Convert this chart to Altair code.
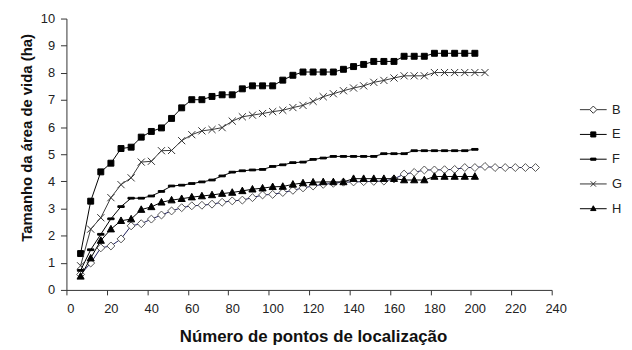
import altair as alt
import pandas as pd

# ---- data ----
X_POINTS = [7, 12, 17, 22, 27, 32, 37, 42, 47, 52, 57, 62, 67, 72, 77, 82, 87, 92, 97, 102,
            107, 112, 117, 122, 127, 132, 137, 142, 147, 152, 157, 162, 167, 172, 177, 182,
            187, 192, 197, 202, 207, 212, 217, 222, 227, 232]

SERIES = ["B", "E", "F", "G", "H"]

B_VALUES = [0.57, 0.99, 1.55, 1.62, 1.88, 2.36, 2.44, 2.61, 2.76, 2.91, 3.03, 3.10, 3.12, 3.16,
            3.23, 3.28, 3.31, 3.40, 3.50, 3.52, 3.59, 3.67, 3.76, 3.83, 3.89, 3.93, 3.97, 3.98,
            3.99, 4.00, 4.01, 4.09, 4.27, 4.33, 4.42, 4.42, 4.43, 4.44, 4.51, 4.51, 4.55, 4.51,
            4.51, 4.51, 4.51, 4.51]
E_VALUES = [1.34, 3.27, 4.35, 4.67, 5.21, 5.26, 5.63, 5.84, 5.97, 6.32, 6.71, 7.01, 7.01, 7.13,
            7.19, 7.19, 7.41, 7.52, 7.52, 7.52, 7.73, 7.91, 8.03, 8.03, 8.03, 8.03, 8.13, 8.23,
            8.31, 8.42, 8.42, 8.42, 8.61, 8.61, 8.61, 8.72, 8.72, 8.72, 8.72, 8.72]
F_VALUES = [0.72, 1.48, 2.05, 2.62, 3.07, 3.38, 3.38, 3.46, 3.63, 3.83, 3.86, 3.92, 3.98, 4.05,
            4.20, 4.34, 4.39, 4.42, 4.44, 4.55, 4.61, 4.69, 4.71, 4.81, 4.86, 4.92, 4.92, 4.92,
            4.92, 4.92, 5.02, 5.02, 5.02, 5.13, 5.13, 5.13, 5.13, 5.13, 5.13, 5.18]
G_VALUES = [0.89, 2.24, 2.66, 3.40, 3.88, 4.13, 4.71, 4.74, 5.13, 5.14, 5.50, 5.72, 5.86, 5.91,
            5.98, 6.22, 6.38, 6.44, 6.50, 6.57, 6.62, 6.72, 6.80, 6.95, 7.12, 7.23, 7.34, 7.44,
            7.52, 7.65, 7.72, 7.81, 7.89, 7.89, 7.89, 8.01, 8.01, 8.01, 8.01, 8.01, 8.01]
H_VALUES = [0.50, 1.17, 1.82, 2.24, 2.55, 2.61, 2.96, 3.06, 3.23, 3.31, 3.36, 3.42, 3.46, 3.50,
            3.55, 3.59, 3.65, 3.71, 3.75, 3.80, 3.81, 3.89, 3.94, 3.97, 3.98, 3.98, 3.98, 4.10,
            4.10, 4.10, 4.10, 4.10, 4.05, 4.05, 4.05, 4.18, 4.18, 4.18, 4.18, 4.18]

X_TICKS = [0, 20, 40, 60, 80, 100, 120, 140, 160, 180, 200, 220, 240]
Y_TICKS = [0, 1, 2, 3, 4, 5, 6, 7, 8, 9, 10]

X_TITLE = "Número de pontos de localização"
Y_TITLE = "Tamanho da área de vida (ha)"

VALUES = {"B": B_VALUES, "E": E_VALUES, "F": F_VALUES, "G": G_VALUES, "H": H_VALUES}

frames = []
for name in SERIES:
    vals = VALUES[name]
    frames.append(pd.DataFrame({"x": X_POINTS[:len(vals)], "y": vals, "serie": name}))
data = pd.concat(frames, ignore_index=True)

# ---- styles ----
FONT = "Liberation Sans"
STYLE = {
    "B": dict(line="#1e1e5a", path="M-1,0L0,-1L1,0L0,1Z", fill="white", stroke="#555555"),
    "E": dict(line="#000000", path="M-0.75,-0.75H0.75V0.75H-0.75Z", fill="black", stroke="black"),
    "F": dict(line="#000000", path="M-0.8,-0.22H0.8V0.22H-0.8Z", fill="black", stroke="black"),
    "G": dict(line="#3a3a3a", path="M-0.9,-0.9L0.9,0.9M-0.9,0.9L0.9,-0.9", fill="none", stroke="#333333"),
    "H": dict(line="#000000", path="M0,-0.95L0.9,0.7L-0.9,0.7Z", fill="black", stroke="black"),
}
LEG_PATHS = [
    "M-1,0H-0.27M0.27,0H1M-0.27,0L0,-0.27L0.27,0L0,0.27Z",
    "M-1,0H1M-0.19,-0.19H0.19V0.19H-0.19Z",
    "M-1,0H1M-0.2,-0.08H0.2V0.08H-0.2Z",
    "M-1,0H1M-0.2,-0.2L0.2,0.2M-0.2,0.2L0.2,-0.2",
    "M-1,0H1M0,-0.22L0.2,0.14L-0.2,0.14Z",
]
LEG_FILLS = ["white", "black", "black", "black", "black"]
LEG_STROKES = ["#333333", "black", "black", "#333333", "black"]

x_enc = alt.X("x:Q", scale=alt.Scale(domain=[0, 240], nice=False, zero=False),
              axis=alt.Axis(values=X_TICKS, title=X_TITLE, grid=False, tickSize=5,
                            labelPadding=8, labelOffset=4, titleFontSize=17,
                            titleX=249, titleY=52, titleBaseline="alphabetic",
                            titleAlign="center", labelFlush=False))
y_enc = alt.Y("y:Q", scale=alt.Scale(domain=[0, 10], nice=False),
              axis=alt.Axis(values=Y_TICKS, title=Y_TITLE, grid=False, tickSize=6,
                            labelPadding=6, titleFontSize=15, titleAngle=270,
                            titleX=-40, titleY=120, titleAlign="center",
                            titleBaseline="middle"))

layers = []
for name in SERIES:
    st = STYLE[name]
    base = alt.Chart(data).transform_filter(alt.datum.serie == name)
    layers.append(base.mark_line(color=st["line"], strokeWidth=1).encode(x=x_enc, y=y_enc))
    pt_kwargs = dict(shape=st["path"], size=64, filled=True, stroke=st["stroke"],
                     strokeWidth=1, opacity=1)
    if st["fill"] != "none":
        pt_kwargs["fill"] = st["fill"]
    else:
        pt_kwargs["fillOpacity"] = 0
    layers.append(base.mark_point(**pt_kwargs).encode(x=x_enc, y=y_enc))

leg = alt.Legend(orient="none", legendX=518, legendY=78, title=None, symbolSize=729,
                 symbolStrokeWidth=1, labelFont=FONT, labelFontSize=13, labelColor="#222222",
                 labelOffset=5, rowPadding=4)
legend_layer = alt.Chart(data).transform_filter("datum.x < 0").mark_point(
    filled=True, strokeWidth=1, opacity=1).encode(
    x=x_enc, y=y_enc,
    shape=alt.Shape("serie:N", scale=alt.Scale(domain=SERIES, range=LEG_PATHS), legend=leg),
    fill=alt.Fill("serie:N", scale=alt.Scale(domain=SERIES, range=LEG_FILLS), legend=leg),
    stroke=alt.Stroke("serie:N", scale=alt.Scale(domain=SERIES, range=LEG_STROKES), legend=leg),
)
layers.append(legend_layer)

chart = alt.layer(*layers).properties(
    width=490, height=274,
    autosize=alt.AutoSizeParams(type="none"),
    padding={"left": 59, "top": 9, "right": 73, "bottom": 58},
).configure_view(stroke=None).configure_axis(
    domainColor="#333333", tickColor="#333333", labelColor="#222222",
    labelFont=FONT, labelFontSize=13, titleFont=FONT, titleFontWeight="bold",
    titleColor="#111111", domainWidth=1, tickWidth=1,
)

chart.save("out.html", embed_options={"renderer": "svg", "actions": False})
